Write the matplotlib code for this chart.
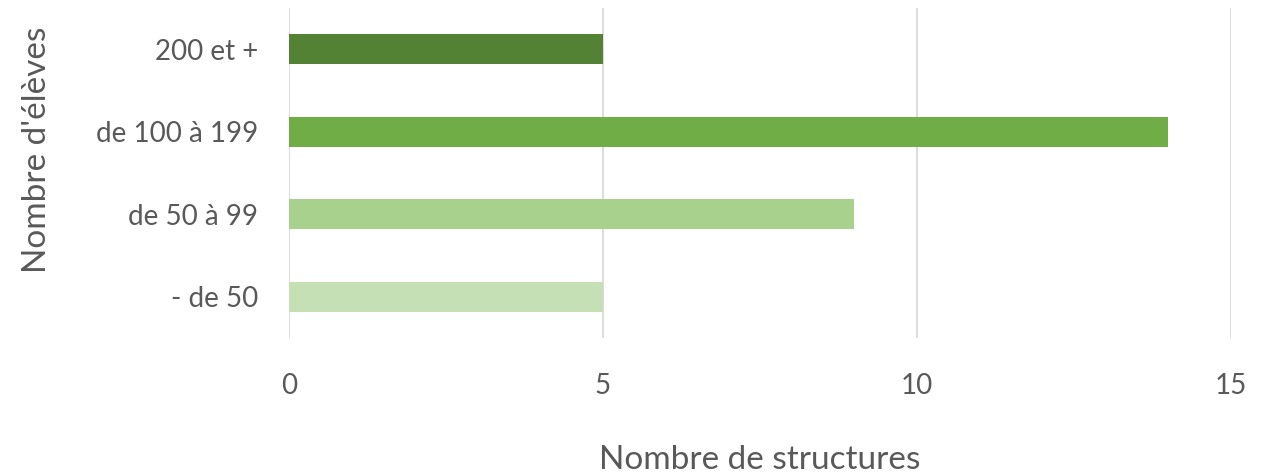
import matplotlib
matplotlib.use('Agg')
import matplotlib.pyplot as plt

# data
categories = ['- de 50', 'de 50 à 99', 'de 100 à 199', '200 et +']
values = [5, 9, 14, 5]
colors = ['#C5E0B4', '#A9D18E', '#70AD47', '#548235']

plt.rcParams['font.family'] = ['Lato', 'DejaVu Sans']
txt = '#595959'

fig = plt.figure(figsize=(12.76, 4.75), dpi=100)
ax = fig.add_axes([0.2265, 0.2884, 0.7382, 0.6948])

ax.barh(categories, values, height=0.36, color=colors, zorder=3)

ax.set_xlim(0, 15)
ax.set_ylim(-0.5, 3.5)
ax.set_xticks([0, 5, 10, 15])
ax.grid(axis='x', color='#D9D9D9', linewidth=1.3, zorder=0)
for s in ax.spines.values():
    s.set_visible(False)
ax.tick_params(length=0, colors=txt, labelsize=20)
ax.tick_params(axis='y', pad=22)
ax.tick_params(axis='x', pad=25)

ax.set_xlabel('Nombre de structures', fontsize=24, color=txt, labelpad=33)
ax.set_ylabel("Nombre d'élèves", fontsize=24, color=txt)
ax.yaxis.set_label_coords(-0.252, 0.57)

fig.savefig('out.png', dpi=100)
